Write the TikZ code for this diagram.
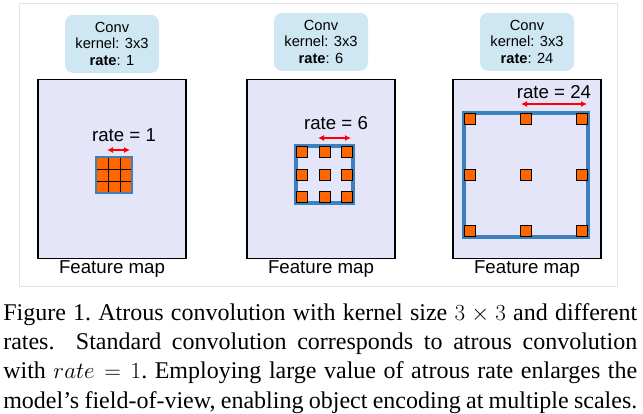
\documentclass[tikz,border=0pt]{standalone}
\usepackage{fontspec}
\setmainfont{Liberation Serif}
\newfontfamily\figfont{Liberation Sans}
\usetikzlibrary{positioning,arrows.meta,calc}
\definecolor{colConv}{RGB}{207,230,243}
\definecolor{colMap}{RGB}{229,229,250}
\definecolor{colTap}{RGB}{255,102,0}
\definecolor{colField}{RGB}{60,128,190}
\definecolor{colFrame}{RGB}{228,228,228}

\begin{document}
\begin{tikzpicture}[
    x=0.75pt, y=-0.75pt,
    every node/.style={font=\figfont, align=center},
    conv/.style={fill=colConv, rounded corners=6pt, minimum width=70.5pt, minimum height=43.5pt, inner sep=0pt, font=\figfont\fontsize{11}{12.5}\selectfont},
    fmap/.style={draw, thick, fill=colMap, minimum width=111pt, minimum height=134pt, inner sep=0pt},
    maplabel/.style={inner sep=1pt, font=\figfont\fontsize{14}{16}\selectfont},
    ratelabel/.style={inner sep=1pt, font=\figfont\fontsize{14}{16}\selectfont},
    field/.style={draw=colField, line width=2.6pt, inner sep=0pt},
    tap/.style={draw, fill=colTap, line width=0.5pt, minimum size=8.25pt, inner sep=0pt},
    cell/.style={draw, fill=colTap, line width=0.5pt, minimum size=9pt, inner sep=0pt},
    ratearrow/.style={{Latex[length=4.5pt,width=4.5pt]}-{Latex[length=4.5pt,width=4.5pt]}, red, line width=1.6pt}
]
    \useasboundingbox (0,0) rectangle (643,414);
    \draw[colFrame] (19,3) rectangle (617,286);

    \node[fmap] (map1) at (112,169) {};
    \node[fmap] (map2) at (321,169) {};
    \node[fmap] (map3) at (527,169) {};

    \node[conv, above=4.5pt of map1] (conv1) {Conv\\kernel: 3x3\\\textbf{rate}: 1};
    \node[conv, above=6pt of map2] (conv2) {Conv\\kernel: 3x3\\\textbf{rate}: 6};
    \node[conv, above=6pt of map3] (conv3) {Conv\\kernel: 3x3\\\textbf{rate}: 24};

    \node[maplabel, below=0pt of map1] (lab1) {Feature map};
    \node[maplabel, below=0pt of map2] (lab2) {Feature map};
    \node[maplabel, below=0pt of map3] (lab3) {Feature map};

    \node[field, line width=1.2pt, minimum size=27pt] (field1) at (114,175) {};
    \foreach \i in {-1,0,1}
        \foreach \j in {-1,0,1}
            \node[cell] (c1-\i-\j) at ($(field1.center)+(12*\i,12*\j)$) {};
    \node[field, line width=1.2pt, minimum size=27pt] at (field1.center) {};

    \node[field, minimum size=42.75pt] (field2) at (324.5,174.5) {};
    \foreach \i in {-1,0,1}
        \foreach \j in {-1,0,1}
            \node[tap] (t2-\i-\j) at ($(field2.center)+(22.5*\i,22.5*\j)$) {};

    \node[field, minimum size=93pt] (field3) at (526,175) {};
    \foreach \i in {-1,0,1}
        \foreach \j in {-1,0,1}
            \node[tap] (t3-\i-\j) at ($(field3.center)+(56*\i,56*\j)$) {};

    \node[ratelabel] (rate1) at (124,135) {rate = 1};
    \node[ratelabel] (rate2) at (336,123) {rate = 6};
    \node[ratelabel] (rate3) at (554,92) {rate = 24};

    \coordinate (a1) at (107,150);
    \coordinate (b1) at (130,150);
    \coordinate (a2) at (318,138);
    \coordinate (b2) at (351,138);
    \coordinate (a3) at (521,104);
    \coordinate (b3) at (587,104);
    \draw[ratearrow, line width=1pt] (a1) -- (b1);
    \draw[ratearrow] (a2) -- (b2);
    \draw[ratearrow] (a3) -- (b3);

    \node[anchor=north west, inner sep=0pt, text width=475.5pt, align=justify, font=\rmfamily\fontsize{18}{22}\selectfont] (caption) at (3,303)
        {\frenchspacing\parfillskip=0pt\relax Figure 1. Atrous convolution with kernel size $3\times3$ and different\linebreak
         rates.\ \ Standard convolution corresponds to atrous convolution\linebreak
         with $rate=1$. Employing large value of atrous rate enlarges the\linebreak
         model's field-of-view, enabling object encoding at multiple scales.\par};
\end{tikzpicture}
\end{document}
